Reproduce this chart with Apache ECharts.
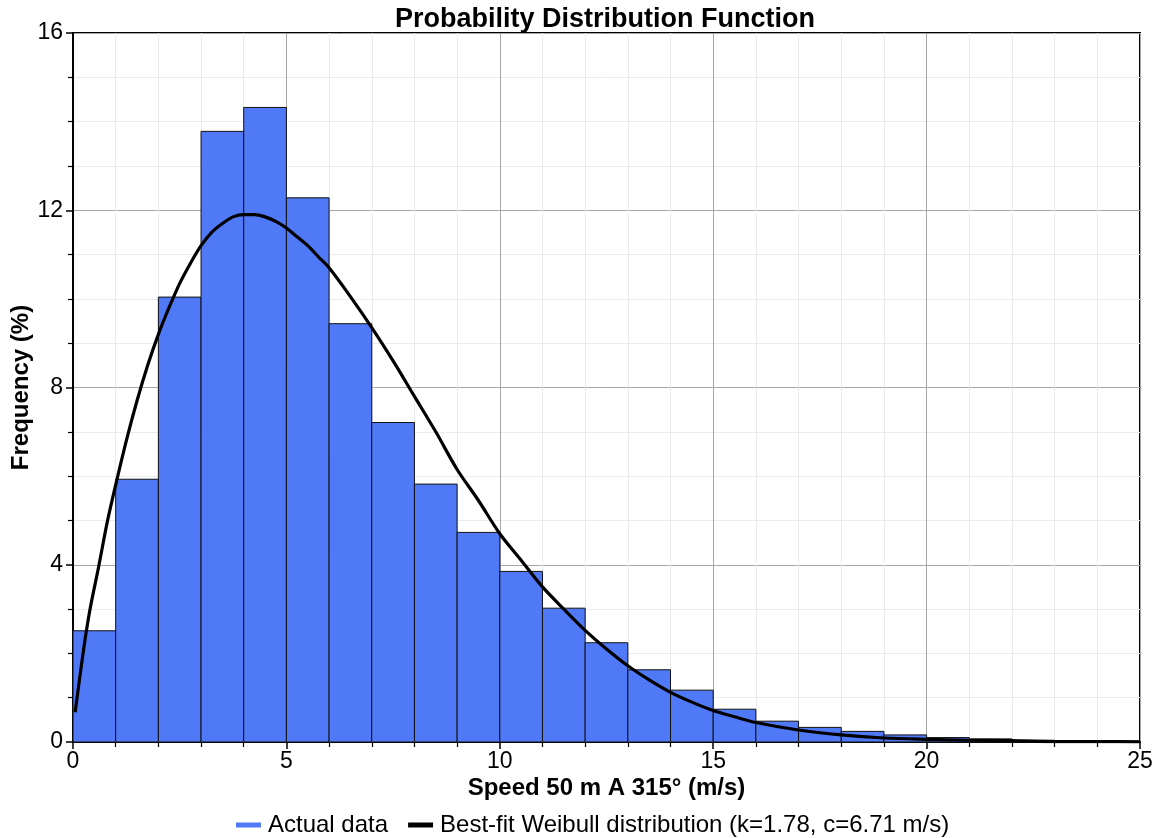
<!DOCTYPE html>
<html>
<head>
<meta charset="utf-8">
<script src="https://cdn.jsdelivr.net/npm/echarts@6/dist/echarts.min.js"></script>
<style>
html,body{margin:0;padding:0;background:#fff;}
#chart{width:1161px;height:838px;}
</style>
</head>
<body>
<div id="chart"></div>
<script>
// Histogram bins (start edge, m/s) and frequencies (%)
const binStarts = [0,1,2,3,4,5,6,7,8,9,10,11,12,13,14,15,16,17,18,19,20,21,22,23,24];
const binWidth = 1;
const freqValues = [2.51,5.93,10.04,13.78,14.32,12.28,9.44,7.21,5.82,4.73,3.85,3.02,2.24,1.63,1.17,0.74,0.47,0.33,0.24,0.16,0.10,0.07,0.04,0.03,0.02];

// Best-fit Weibull curve points
const curveX = [0.05,0.25,0.4,0.6,0.8,1,1.25,1.5,1.75,2,2.25,2.5,2.75,3,3.25,3.5,3.75,4,4.25,4.5,4.75,5,5.25,5.5,5.75,6,6.5,7,7.5,8,8.5,9,9.5,10,10.5,11,11.5,12,12.5,13,13.5,14,14.5,15,15.5,16,17,18,19,20,21,22,23,24,25];
const curveY = [0.67,2.1,3.0,3.95,4.95,5.8,6.8,7.7,8.5,9.2,9.8,10.35,10.8,11.2,11.5,11.7,11.85,11.9,11.9,11.85,11.75,11.6,11.4,11.2,10.95,10.7,10.05,9.35,8.6,7.8,7.0,6.15,5.45,4.7,4.1,3.5,3.0,2.52,2.1,1.72,1.4,1.12,0.9,0.71,0.57,0.44,0.27,0.16,0.09,0.06,0.04,0.03,0.01,0.01,0.005];

const xTicks = [0,5,10,15,20,25];
const yTicks = [0,4,8,12,16];

const titleText = 'Probability Distribution Function';
const xName = 'Speed 50 m A 315° (m/s)';
const yName = 'Frequency (%)';
const barName = 'Actual data';
const lineName = 'Best-fit Weibull distribution (k=1.78, c=6.71 m/s)';

const FONT = '"Liberation Sans", Arial, sans-serif';
const BAR_COLOR = '#5079F8';

const histData = binStarts.map((s, i) => [s, s + binWidth, freqValues[i]]);
const lineData = curveX.map((x, i) => [x, curveY[i]]);

const chart = echarts.init(document.getElementById('chart'), null, {renderer: 'canvas'});
chart.setOption({
  animation: false,
  backgroundColor: '#fff',
  title: {
    text: titleText,
    left: 600, textAlign: 'center', top: 1,
    textStyle: {fontFamily: FONT, fontSize: 27, fontWeight: 'bold', color: '#000'}
  },
  legend: {
    bottom: 1,
    left: 236,
    padding: 0,
    itemGap: 20,
    itemWidth: 25,
    itemHeight: 5,
    textStyle: {fontFamily: FONT, fontSize: 24, color: '#000', padding: [0, 0, 0, 2]},
    data: [
      {name: barName, icon: 'rect', itemStyle: {color: BAR_COLOR}},
      {name: lineName, icon: 'rect', itemStyle: {color: '#000'}}
    ]
  },
  grid: {
    left: 73, right: 21, top: 33, bottom: 96,
    containLabel: false,
    outerBoundsMode: 'none',
    show: true, borderColor: '#000', borderWidth: 2, backgroundColor: 'transparent'
  },
  xAxis: {
    type: 'value', min: 0, max: 25, interval: 5,
    name: xName, nameLocation: 'middle', nameGap: 34, nameMoveOverlap: false,
    nameTextStyle: {fontFamily: FONT, fontSize: 24, fontWeight: 'bold', color: '#000'},
    axisLine: {show: true, onZero: false, lineStyle: {color: '#000', width: 2}},
    axisTick: {show: true, length: 7, lineStyle: {color: '#000', width: 1.5}},
    minorTick: {show: true, splitNumber: 5, length: 5, lineStyle: {color: '#000', width: 1.2}},
    axisLabel: {fontFamily: FONT, fontSize: 23, color: '#000', margin: 8},
    splitLine: {show: true, lineStyle: {color: '#a6a6a6', width: 1}},
    minorSplitLine: {show: true, lineStyle: {color: '#ebebeb', width: 1}}
  },
  yAxis: {
    type: 'value', min: 0, max: 16, interval: 4,
    name: yName, nameLocation: 'middle', nameGap: 40, nameRotate: 90, nameMoveOverlap: false,
    nameTextStyle: {fontFamily: FONT, fontSize: 24, fontWeight: 'bold', color: '#000'},
    axisLine: {show: true, lineStyle: {color: '#000', width: 2}},
    axisTick: {show: true, length: 7, lineStyle: {color: '#000', width: 1.5}},
    minorTick: {show: true, splitNumber: 4, length: 5, lineStyle: {color: '#000', width: 1.2}},
    axisLabel: {fontFamily: FONT, fontSize: 23, color: '#000', margin: 10},
    splitLine: {show: true, lineStyle: {color: '#a6a6a6', width: 1}},
    minorSplitLine: {show: true, lineStyle: {color: '#ebebeb', width: 1}}
  },
  series: [
    {
      name: barName,
      type: 'custom',
      data: histData,
      encode: {x: [0, 1], y: 2},
      itemStyle: {color: BAR_COLOR},
      renderItem: function (params, api) {
        const p0 = api.coord([api.value(0), 0]);
        const p1 = api.coord([api.value(1), api.value(2)]);
        return {
          type: 'rect',
          shape: {x: p0[0], y: p1[1], width: p1[0] - p0[0], height: p0[1] - p1[1]},
          style: {fill: BAR_COLOR, stroke: '#111', lineWidth: 1}
        };
      },
      z: 2
    },
    {
      name: lineName,
      type: 'line',
      data: lineData,
      smooth: 0.3,
      showSymbol: false,
      lineStyle: {color: '#000', width: 3.2},
      itemStyle: {color: '#000'},
      z: 3
    }
  ]
});
</script>
</body>
</html>
